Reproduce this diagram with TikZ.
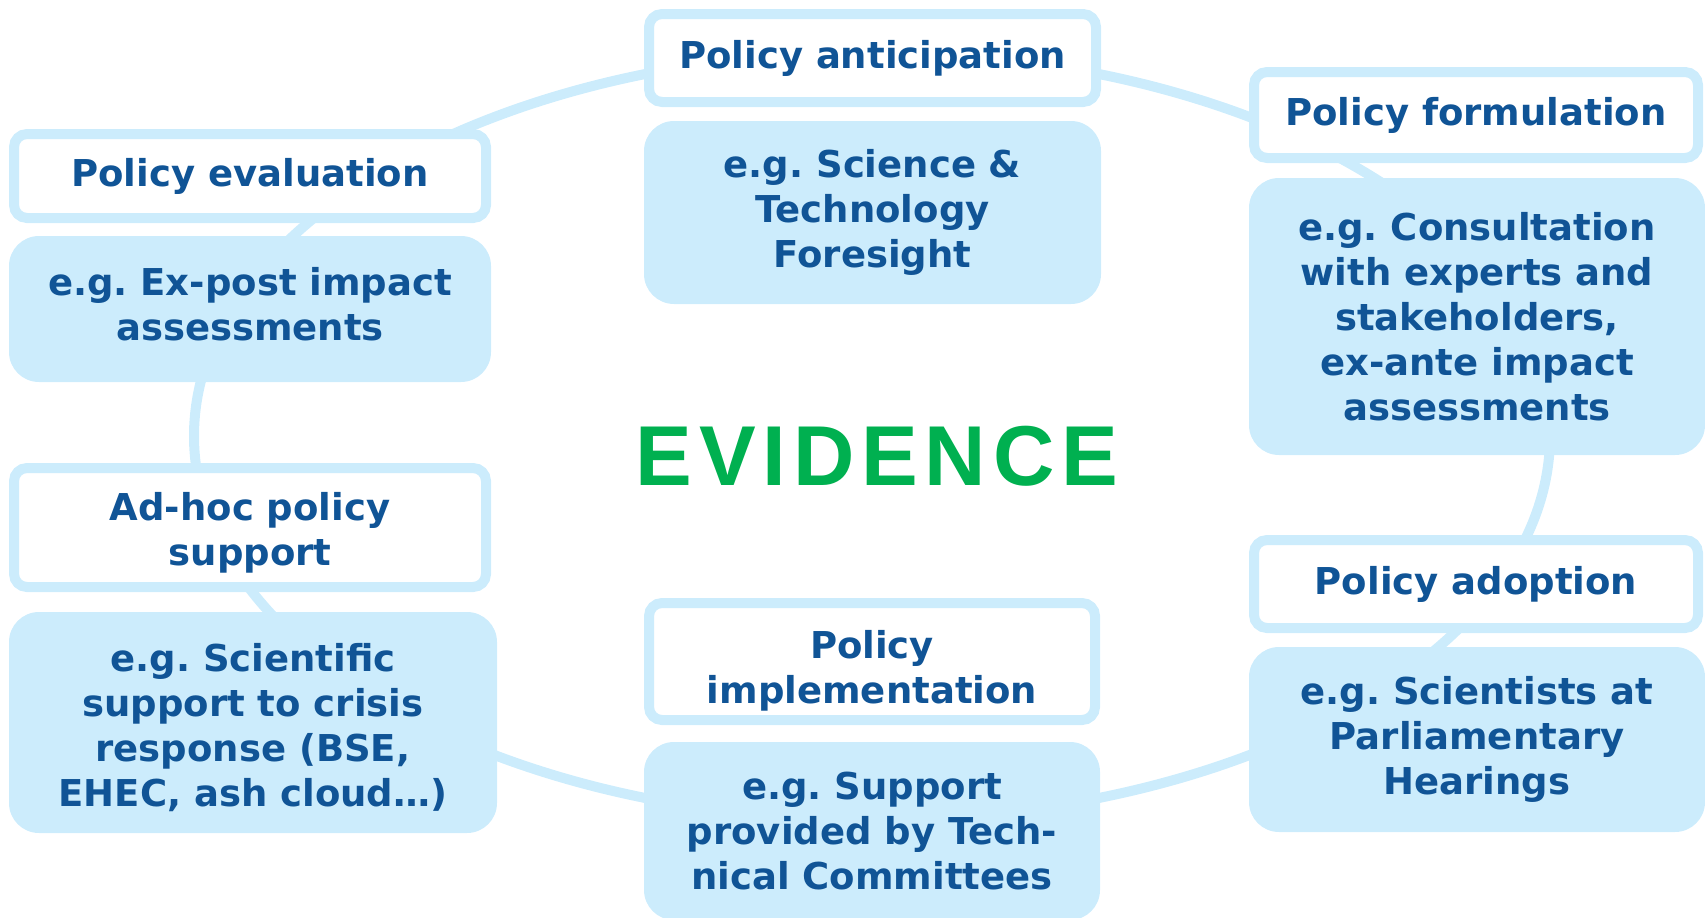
\documentclass[tikz,border=0pt]{standalone}
\usepackage{fontspec}
\setmainfont{DejaVu Sans}
\newfontfamily\evidfont[LetterSpace=8]{Liberation Sans}
\usepackage{xcolor}
\usetikzlibrary{math}
\definecolor{skyline}{RGB}{204,236,252}
\definecolor{inkblue}{RGB}{16,84,150}
\definecolor{leafgreen}{RGB}{0,176,80}
\frenchspacing
\tikzset{
	ring/.style={draw=skyline, line width=10pt},
	stage/.style={draw=skyline, line width=10pt, fill=white, rounded corners=13pt,
		inner sep=0pt, align=center, text=inkblue,
		font=\fontsize{37}{45}\selectfont\bfseries},
	example/.style={fill=skyline, rounded corners=30pt,
		inner sep=0pt, align=center, text=inkblue,
		font=\fontsize{37}{45}\selectfont\bfseries},
}

\begin{document}
\begin{tikzpicture}[x=1pt,y=-1pt]
\useasboundingbox (0,0) rectangle (1705,918);
\tikzmath{
	\colL = 250;\colM = 872;\colR = 1476;
	\ra = 678;\rb = 384;
	{\coordinate (cyc) at (872,436);};
	{\draw[ring] (cyc) ellipse [x radius=\ra, y radius=\rb];};
	%
	{\node[stage, minimum width=472pt, minimum height=84pt] (eval) at (\colL,176) {Policy evaluation};};
	{\node[example, minimum width=482pt, minimum height=146pt] (evalx) at (\colL,309) {e.g. Ex-post impact\\assessments\rule[-11pt]{0pt}{0pt}};};
	{\node[stage, minimum width=447pt, minimum height=88pt] (antic) at (\colM+0.5,58) {Policy anticipation};};
	{\node[example, minimum width=457pt, minimum height=183pt] (anticx) at (\colM+0.5,212.5) {e.g. Science \&\\Technology\\Foresight};};
	{\node[stage, minimum width=444pt, minimum height=86pt] (formul) at (\colR,115) {Policy formulation};};
	{\node[example, minimum width=456pt, minimum height=277pt] (formulx) at (\colR+1,316.5) {e.g. Consultation\\with experts and\\stakeholders,\\ex-ante impact\\assessments};};
	%
	{\node[stage, minimum width=472pt, minimum height=119pt] (adhoc) at (\colL,527.5) {\rule{0pt}{39pt}Ad-hoc policy\\support};};
	{\node[example, minimum width=488pt, minimum height=221pt] (adhocx) at (\colL+3,722.5) {\rule{0pt}{38pt}e.g. Scientific\\support to crisis\\response (BSE,\\EHEC, ash cloud…)};};
	{\node[stage, minimum width=446pt, minimum height=117pt] (implem) at (\colM,661.5) {\rule{0pt}{46pt}Policy\\implementation};};
	{\node[example, minimum width=456pt, minimum height=178pt] (implemx) at (\colM,831) {e.g. Support\\provided by Tech-\\nical Committees};};
	{\node[stage, minimum width=444pt, minimum height=88pt] (adopt) at (\colR,584) {Policy adoption};};
	{\node[example, minimum width=456pt, minimum height=185pt] (adoptx) at (\colR+1,739.5) {e.g. Scientists at\\Parliamentary\\Hearings};};
	%
	{\node[font=\evidfont\bfseries\fontsize{85}{90}\selectfont, text=leafgreen, inner sep=0pt] (evid) at (877,456.5) {EVIDENCE};};
};
\end{tikzpicture}
\end{document}
